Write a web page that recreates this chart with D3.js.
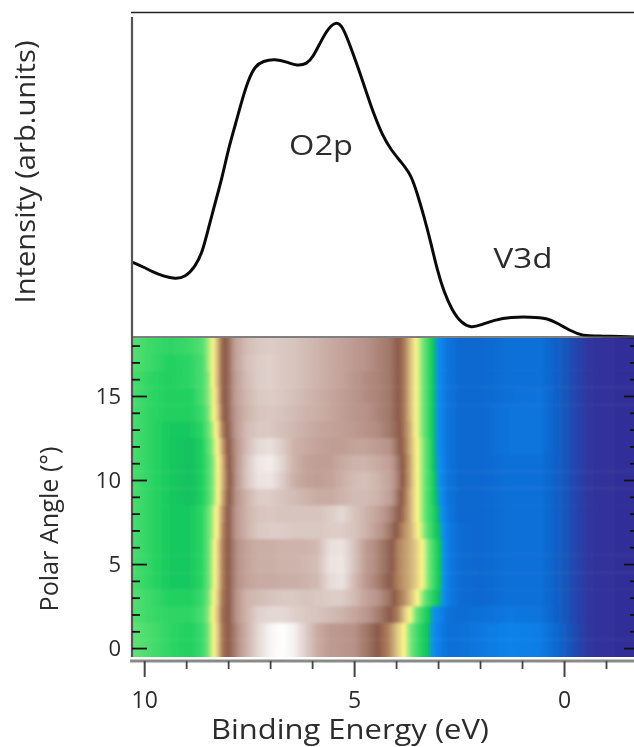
<!DOCTYPE html>
<html><head><meta charset="utf-8">
<script src="https://cdn.jsdelivr.net/npm/d3@7"></script>
<style>html,body{margin:0;padding:0;background:#fff;overflow:hidden}svg{display:block;filter:blur(.55px)}text{font-family:"Open Sans",sans-serif;fill:#2c2c2c}</style>
</head><body><svg id="c" width="634" height="747"></svg>
<script>
// EDC: binding energy (eV) and intensity (arb. units)
const edcEnergy=[10.29,10.02,9.79,9.55,9.26,9.02,8.79,8.62,8.48,8.31,8.14,8.0,7.83,7.67,7.52,7.36,7.17,6.88,6.6,6.36,6.12,5.98,5.81,5.62,5.4,5.26,5.1,4.9,4.67,4.52,4.33,4.12,3.88,3.64,3.5,3.33,3.17,3.02,2.86,2.67,2.45,2.21,1.98,1.67,1.26,.79,.4,.17,-.17,-.43,-.88,-1.67];
const edcIntensity=[75,70,65,61,58,60,70,84,107,134,160,187,212,237,257,271,276,278,275,271,273,280,294,309,316,309,292,269,240,222,202,187,175,162,144,120,94,67,45,27,14,9,12,17,20,20,19,14,6,1,1,0];
// Map: energy columns (eV)
const mapEnergy=[10.29,9.86,9.38,8.9,8.62,8.48,8.36,8.24,8.14,8.0,7.81,7.57,7.29,7.0,6.71,6.43,6.14,5.86,5.57,5.29,5.0,4.71,4.43,4.14,3.95,3.81,3.67,3.52,3.38,3.24,3.1,2.95,2.76,2.48,2.0,1.29,.57,.1,-.26,-.62,-1.67];
// Map: intensity per polar angle row, 18 deg at the top to 0 deg at the bottom
const row18=[40,38,37,38,40,44,48,55,62,66,76,82,85,86,85,84,82,80,78,76,74,72,70,68,64,60,54,48,43,38,34,29,25,22,22,24,24,19,13,9,6];
const row17=[40,38,36,37,39,44,48,55,62,66,76,83,86,87,85,84,82,80,78,76,74,72,70,68,64,60,54,48,43,38,34,29,25,22,22,24,24,19,13,9,6];
const row16=[39,37,36,37,39,43,48,55,62,66,75,82,86,87,85,84,82,80,78,76,73,71,70,68,64,60,54,48,43,38,34,29,25,22,22,24,24,19,13,9,6];
const row15=[39,37,36,36,39,43,47,54,62,66,75,81,85,86,85,83,81,79,77,75,73,71,70,68,64,60,54,48,43,38,34,29,25,22,22,24,25,19,13,9,6];
const row14=[39,37,36,36,38,42,47,53,61,66,74,80,84,85,84,82,80,79,77,75,73,72,70,68,64,60,54,48,43,38,34,29,25,22,22,25,25,19,13,9,6];
const row13=[39,37,35,35,37,41,45,51,59,65,74,82,85,85,83,81,79,77,76,75,74,72,71,68,65,60,55,48,43,38,34,29,25,22,22,25,25,19,13,9,6];
const row12=[39,37,35,34,36,40,44,49,56,64,72,82,89,91,86,80,78,76,75,75,76,76,74,72,66,61,55,49,44,39,34,29,25,22,22,25,25,19,13,9,6];
const row11=[39,37,35,34,36,39,43,48,54,63,72,84,93,95,88,80,76,75,75,78,80,80,78,75,68,62,56,49,44,39,34,30,25,22,22,24,24,19,13,9,6];
const row10=[39,37,35,34,36,39,43,48,54,62,72,84,92,93,86,79,76,75,76,79,82,83,80,76,69,62,56,49,44,39,35,30,25,22,22,24,24,19,13,9,6];
const row09=[39,37,35,34,36,39,43,48,55,63,72,80,86,86,84,82,80,78,78,80,82,82,80,75,67,61,55,49,44,39,35,31,25,22,22,24,24,19,13,9,6];
const row08=[39,37,35,35,37,41,45,50,57,64,73,80,84,85,84,84,84,84,86,89,84,80,76,70,65,60,55,49,44,39,36,32,26,22,22,24,24,19,13,9,6];
const row07=[39,37,35,35,37,41,45,50,58,64,73,80,85,86,86,85,85,85,86,86,84,80,74,68,62,58,55,50,45,40,36,33,27,23,22,24,24,19,13,9,6];
const row06=[39,37,35,35,37,41,46,52,59,64,71,76,79,79,80,80,80,82,91,92,84,74,70,65,59,57,55,52,48,43,38,34,27,23,22,24,24,19,13,9,6];
const row05=[39,37,35,35,37,41,46,52,59,64,71,76,79,79,80,80,81,83,92,93,84,74,70,65,59,57,55,52,48,43,38,34,27,23,22,24,24,19,13,9,6];
const row04=[39,37,35,35,37,41,46,52,59,64,71,76,78,78,79,79,80,82,90,92,82,73,69,64,59,57,55,52,48,43,38,34,27,23,22,24,24,19,13,9,6];
const row03=[40,38,36,36,38,42,47,53,60,64,72,80,82,84,85,85,84,85,86,86,82,76,72,67,61,58,54,49,44,39,36,33,27,23,22,24,24,19,13,9,6];
const row02=[40,38,37,37,39,43,48,54,61,64,72,80,87,89,89,87,85,84,82,80,77,73,69,64,59,53,48,42,38,35,31,28,24,23,24,26,25,19,13,9,6];
const row01=[41,39,37,36,38,42,47,53,60,64,70,79,89,97,100,96,86,78,74,73,72,68,64,58,52,48,43,39,36,34,30,27,24,24,26,28,27,21,14,9,6];
const row00=[41,39,37,36,38,42,47,53,60,64,70,79,89,97,100,96,86,78,74,73,72,68,64,58,52,48,43,39,36,34,30,27,24,24,26,28,27,21,14,9,6];
const mapRows=[row00,row01,row02,row03,row04,row05,row06,row07,row08,row09,row10,row11,row12,row13,row14,row15,row16,row17,row18];
// Colour map stops
const cmapValue=[0,8,15,22,26,30,32,34,36,38,42,48,53,60,64,68,72,80,88,100];
const cmapColor=["#2e2a94","#33309a","#1c4fb5","#0b68d0","#0a78e0","#0a8cf0","#0a9fc0","#12c060","#20d060","#3cd96a","#70e478","#fdf688","#dcc484","#a87858","#8c5a4a","#a07868","#b89288","#cdb3ab","#e2d4d0","#ffffff"];
// Tick values
const xMajor=[10,5,0], xMinor=[9,8,7,6,4,3,2,1,-1];
const yMajor=[0,5,10,15], yMinor=[1,2,3,4,6,7,8,9,11,12,13,14,16,17,18];

const svg=d3.select("#c");
const x=d3.scaleLinear().domain([10.29,-1.667]).range([132,634]);
const yMap=d3.scaleLinear().domain([-.53,18.45]).range([657,338]);
const yEdc=d3.scaleLinear().domain([0,325]).range([337,12]);
const color=d3.scaleLinear().domain(cmapValue).range(cmapColor).interpolate(d3.interpolateRgb);

// heat map
const defs=svg.append("defs");
defs.append("clipPath").attr("id","plot").append("rect").attr("x",132).attr("y",338).attr("width",502).attr("height",319);
const f=defs.append("filter").attr("id","soft").attr("filterUnits","userSpaceOnUse").attr("x",100).attr("y",300).attr("width",570).attr("height",400);
f.append("feGaussianBlur").attr("stdDeviation","0.8 1.8");
const fine=d3.range(x.domain()[0],x.domain()[1],-.04);
mapRows.forEach((r,i)=>{
  const v=d3.scaleLinear().domain(mapEnergy).range(r).clamp(true);
  const g=defs.append("linearGradient").attr("id","row"+i).attr("gradientUnits","userSpaceOnUse")
    .attr("x1",x.range()[0]).attr("x2",x.range()[1]).attr("y1",0).attr("y2",0);
  g.selectAll("stop").data(fine).join("stop")
    .attr("offset",e=>(x(e)-x.range()[0])/(x.range()[1]-x.range()[0]))
    .attr("stop-color",e=>color(v(e)));
});
const heat=svg.append("g").attr("clip-path","url(#plot)").append("g").attr("filter","url(#soft)");
heat.selectAll("rect").data(mapRows).join("rect")
  .attr("x",x.range()[0]-20).attr("width",x.range()[1]-x.range()[0]+40)
  .attr("y",(d,i)=>yMap(i+.5)-(i===18?20:0)-.2)
  .attr("height",(d,i)=>yMap(i-.5)-yMap(i+.5)+(i===18||i===0?20:0)+.4)
  .attr("fill",(d,i)=>`url(#row${i})`);

// EDC curve
const line=d3.line().x((d,i)=>x(edcEnergy[i])).y(d=>yEdc(d)).curve(d3.curveBasis);
svg.append("path").datum(edcIntensity).attr("d",line).attr("fill","none").attr("stroke","#0a0a0a").attr("stroke-width",3).attr("stroke-linejoin","round");

// frame lines
svg.append("line").attr("x1",131).attr("x2",634).attr("y1",12.5).attr("y2",12.5).attr("stroke","#222").attr("stroke-width",1.6);
svg.append("line").attr("x1",132).attr("x2",634).attr("y1",337).attr("y2",337).attr("stroke","#555").attr("stroke-width",1.6);
svg.append("line").attr("x1",132).attr("x2",132).attr("y1",17).attr("y2",657).attr("stroke","#555").attr("stroke-width",2.2);

function clean(g,sw,col){g.select(".domain").remove();g.selectAll(".tick line").attr("stroke",col||"#111").attr("stroke-width",sw);g.selectAll(".tick text").remove();}
// left and right inside ticks
svg.append("g").attr("transform","translate(132,0)").call(d3.axisRight(yMap).tickValues(yMinor).tickSize(8)).call(clean,1.8);
svg.append("g").attr("transform","translate(132,0)").call(d3.axisRight(yMap).tickValues(yMajor).tickSize(15)).call(clean,1.8);
svg.append("g").attr("transform","translate(634,0)").call(d3.axisLeft(yMap).tickValues(yMinor).tickSize(4)).call(clean,1.8);
svg.append("g").attr("transform","translate(634,0)").call(d3.axisLeft(yMap).tickValues(yMajor).tickSize(10)).call(clean,1.8);
// bottom axis
svg.append("line").attr("x1",130).attr("x2",634).attr("y1",661).attr("y2",661).attr("stroke","#8a8a8a").attr("stroke-width",3.2);
svg.append("g").attr("transform","translate(0,661)").call(d3.axisBottom(x).tickValues(xMinor).tickSize(8)).call(clean,1.8,"#444");
svg.append("g").attr("transform","translate(0,661)").call(d3.axisBottom(x).tickValues(xMajor).tickSize(16)).call(clean,2,"#444");
// tick labels
const xl=svg.append("g").attr("transform","translate(0,661)").call(d3.axisBottom(x).tickValues(xMajor).tickSize(0).tickPadding(31).tickFormat(d3.format("d")));
xl.select(".domain").remove();xl.selectAll("text").attr("font-size",23).attr("font-family",'"Open Sans",sans-serif');
const yl=svg.append("g").attr("transform","translate(132,0)").call(d3.axisLeft(yMap).tickValues(yMajor).tickSize(0).tickPadding(11).tickFormat(d3.format("d")));
yl.select(".domain").remove();yl.selectAll("text").attr("font-size",22).attr("font-family",'"Open Sans",sans-serif');
// titles
const T=(s,px,py,fs,len,rot)=>svg.append("text").text(s).attr("text-anchor","middle").attr("font-size",fs)
  .attr("textLength",len).attr("lengthAdjust","spacingAndGlyphs")
  .attr("transform",`translate(${px},${py})`+(rot?" rotate(-90)":""));
T("Intensity (arb.units)",35,172,27,263,true);
T("Polar Angle (°)",58,529,26,165,true);
T("Binding Energy (eV)",350,739,27,278,false);
T("O2p",321,155,28,64,false);
T("V3d",523,268,28,59,false);
</script></body></html>
